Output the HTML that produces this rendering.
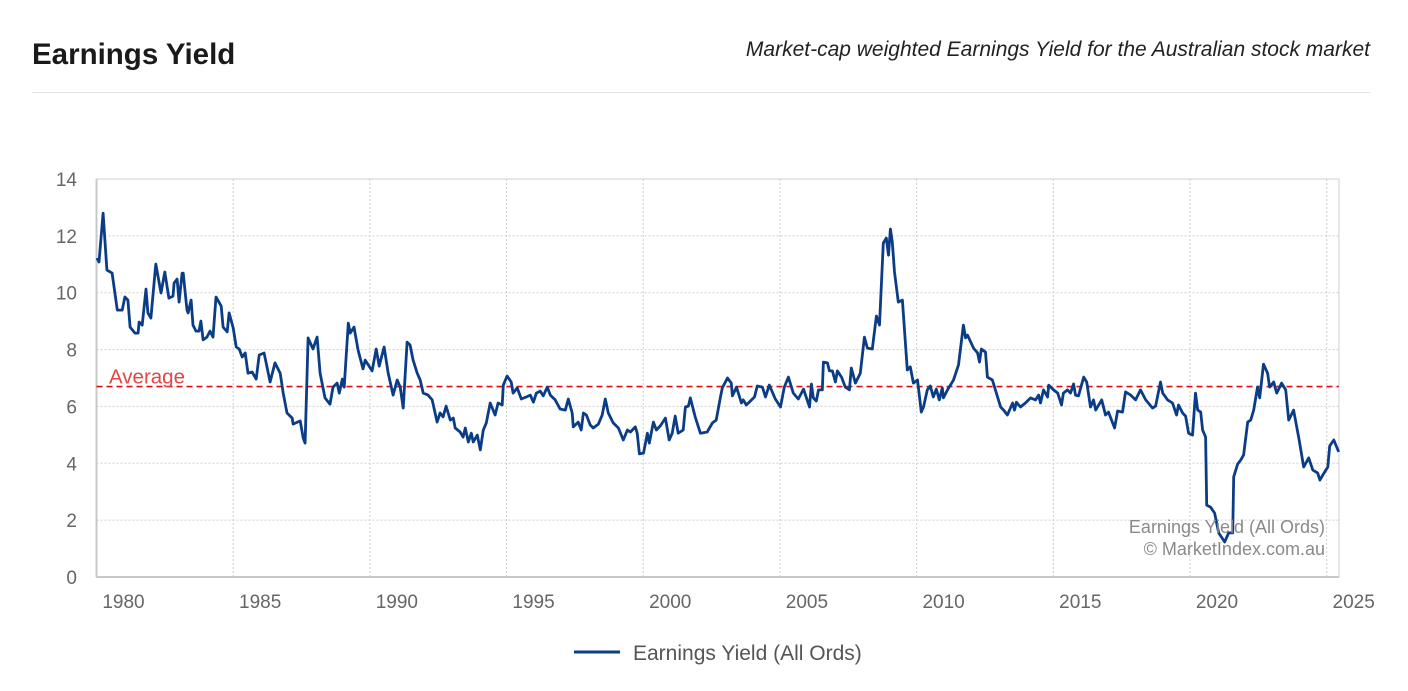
<!DOCTYPE html>
<html><head><meta charset="utf-8"><style>
body{margin:0;width:1408px;height:691px;background:#fff;font-family:"Liberation Sans",sans-serif;overflow:hidden;position:relative}
.t{position:absolute}
</style></head><body>
<div class="t" style="left:32px;top:38px;font-size:29.5px;font-weight:bold;color:#1a1a1a">Earnings Yield</div>
<div class="t" style="right:38px;top:38px;font-size:21px;font-style:italic;color:#222">Market-cap weighted Earnings Yield for the Australian stock market</div>
<div class="t" style="left:32px;top:92px;width:1338px;height:1px;background:#e2e6ea"></div>
<svg id="chart" width="1408" height="691" style="position:absolute;left:0;top:0"></svg>
<script>
const years=[1980.02,1980.09,1980.24,1980.38,1980.57,1980.76,1980.94,1981.04,1981.15,1981.23,1981.41,1981.52,1981.56,1981.67,1981.81,1981.88,1981.99,1982.17,1982.36,1982.50,1982.65,1982.80,1982.84,1982.95,1983.02,1983.13,1983.17,1983.31,1983.35,1983.46,1983.53,1983.64,1983.75,1983.82,1983.90,1984.04,1984.15,1984.26,1984.37,1984.56,1984.63,1984.78,1984.85,1985.00,1985.11,1985.22,1985.33,1985.44,1985.54,1985.69,1985.84,1985.95,1986.13,1986.35,1986.53,1986.72,1986.83,1986.97,1987.16,1987.19,1987.45,1987.56,1987.63,1987.74,1987.92,1988.07,1988.18,1988.36,1988.54,1988.65,1988.80,1988.88,1988.99,1989.06,1989.21,1989.28,1989.42,1989.57,1989.75,1989.83,1990.08,1990.23,1990.34,1990.52,1990.67,1990.85,1991.00,1991.11,1991.22,1991.36,1991.47,1991.58,1991.73,1991.84,1991.95,1992.13,1992.28,1992.46,1992.57,1992.68,1992.79,1992.94,1993.05,1993.12,1993.30,1993.41,1993.49,1993.60,1993.71,1993.78,1993.93,1994.04,1994.15,1994.26,1994.40,1994.58,1994.69,1994.84,1994.88,1995.02,1995.17,1995.24,1995.39,1995.54,1995.72,1995.87,1995.98,1996.09,1996.23,1996.34,1996.49,1996.60,1996.78,1996.96,1997.15,1997.26,1997.40,1997.44,1997.62,1997.73,1997.81,1997.92,1998.06,1998.17,1998.36,1998.50,1998.61,1998.72,1998.90,1999.09,1999.27,1999.42,1999.53,1999.71,1999.78,1999.86,2000.01,2000.15,2000.22,2000.37,2000.48,2000.62,2000.81,2000.95,2001.06,2001.17,2001.28,2001.46,2001.54,2001.65,2001.72,2001.90,2002.09,2002.34,2002.53,2002.67,2002.82,2002.89,2003.08,2003.22,2003.26,2003.41,2003.59,2003.66,2003.77,2003.92,2004.07,2004.17,2004.36,2004.47,2004.61,2004.83,2005.02,2005.16,2005.31,2005.49,2005.67,2005.86,2006.08,2006.15,2006.22,2006.33,2006.41,2006.55,2006.59,2006.74,2006.81,2006.92,2007.03,2007.10,2007.25,2007.39,2007.54,2007.61,2007.76,2007.94,2008.09,2008.20,2008.38,2008.53,2008.64,2008.78,2008.89,2008.97,2009.04,2009.11,2009.19,2009.33,2009.48,2009.66,2009.77,2009.88,2010.03,2010.17,2010.25,2010.39,2010.50,2010.61,2010.72,2010.83,2010.94,2010.98,2011.13,2011.35,2011.53,2011.71,2011.79,2011.86,2012.08,2012.23,2012.30,2012.37,2012.52,2012.59,2012.77,2012.88,2013.07,2013.18,2013.32,2013.51,2013.58,2013.65,2013.80,2013.98,2014.17,2014.35,2014.46,2014.53,2014.64,2014.79,2014.83,2015.01,2015.16,2015.30,2015.37,2015.52,2015.63,2015.74,2015.81,2015.92,2016.11,2016.22,2016.36,2016.47,2016.55,2016.77,2016.91,2017.02,2017.17,2017.24,2017.35,2017.53,2017.64,2017.83,2018.01,2018.19,2018.38,2018.63,2018.74,2018.92,2019.00,2019.18,2019.36,2019.51,2019.58,2019.73,2019.84,2019.95,2020.09,2020.20,2020.28,2020.39,2020.46,2020.57,2020.61,2020.75,2020.90,2021.05,2021.27,2021.41,2021.56,2021.60,2021.74,2021.85,2021.96,2022.11,2022.22,2022.33,2022.47,2022.55,2022.69,2022.84,2022.91,2023.06,2023.17,2023.35,2023.50,2023.61,2023.79,2023.98,2024.16,2024.34,2024.49,2024.67,2024.75,2024.86,2025.04,2025.11,2025.26,2025.44];
const yieldValues=[11.22,11.08,12.80,10.80,10.69,9.39,9.39,9.85,9.74,8.79,8.58,8.58,8.97,8.86,10.13,9.29,9.11,11.01,9.99,10.73,9.81,9.88,10.34,10.48,9.67,10.69,10.69,9.39,9.29,9.74,8.86,8.65,8.65,9.00,8.34,8.44,8.65,8.44,9.85,9.53,8.79,8.62,9.29,8.76,8.09,8.02,7.74,7.88,7.17,7.21,6.96,7.81,7.88,6.86,7.53,7.17,6.47,5.77,5.59,5.38,5.49,4.89,4.71,8.41,8.02,8.44,7.17,6.30,6.08,6.68,6.82,6.47,6.96,6.68,8.93,8.58,8.79,7.98,7.32,7.63,7.25,8.02,7.42,8.09,7.17,6.40,6.93,6.68,5.94,8.26,8.16,7.63,7.17,6.93,6.47,6.40,6.23,5.45,5.77,5.63,6.01,5.52,5.59,5.24,5.10,4.92,5.24,4.75,5.06,4.75,4.99,4.47,5.17,5.42,6.12,5.70,6.12,6.05,6.75,7.07,6.86,6.47,6.65,6.26,6.33,6.40,6.15,6.47,6.54,6.37,6.68,6.40,6.23,5.91,5.87,6.26,5.77,5.28,5.45,5.17,5.77,5.70,5.35,5.24,5.38,5.70,6.26,5.77,5.42,5.24,4.82,5.17,5.10,5.28,5.06,4.33,4.36,5.06,4.71,5.45,5.17,5.31,5.59,4.82,5.06,5.66,5.06,5.17,5.98,6.01,6.30,5.63,5.06,5.10,5.42,5.52,6.30,6.65,7.00,6.82,6.37,6.68,6.12,6.23,6.05,6.19,6.33,6.72,6.68,6.33,6.75,6.26,5.98,6.68,7.03,6.47,6.26,6.61,5.98,6.79,6.30,6.19,6.58,6.58,7.56,7.53,7.25,7.25,6.86,7.25,7.03,6.68,6.58,7.35,6.82,7.17,8.44,8.05,8.02,9.18,8.86,11.75,11.92,11.32,12.24,11.78,10.73,9.67,9.74,7.28,7.39,6.82,6.93,5.80,5.98,6.58,6.72,6.33,6.61,6.23,6.65,6.30,6.58,6.93,7.46,8.86,8.41,8.51,8.05,7.88,7.56,8.02,7.91,7.03,6.93,6.58,5.98,5.87,5.70,6.12,5.87,6.15,5.98,6.12,6.30,6.23,6.40,6.12,6.58,6.33,6.75,6.58,6.47,6.05,6.47,6.58,6.47,6.79,6.40,6.37,7.03,6.86,5.98,6.23,5.87,6.23,5.70,5.80,5.42,5.24,5.84,5.80,6.51,6.40,6.23,6.58,6.23,5.94,6.01,6.86,6.47,6.23,6.12,5.70,6.05,5.77,5.66,5.06,4.99,6.47,5.87,5.80,5.17,4.92,2.53,2.46,2.25,1.55,1.23,1.55,1.55,3.52,3.97,4.11,4.29,5.45,5.52,5.87,6.68,6.30,7.49,7.17,6.68,6.86,6.47,6.82,6.58,5.52,5.87,4.89,3.87,4.19,3.76,3.66,3.41,3.59,3.87,4.61,4.82,4.40];
const yTicks=[0,2,4,6,8,10,12,14];
const xTicks=[1980,1985,1990,1995,2000,2005,2010,2015,2020,2025];
const averageValue=6.7;
const seriesName="Earnings Yield (All Ords)";

const L=96.5,R=1339,T=179,B=577,X0=1980,X1=2025.45,Y0=0,Y1=14;
const xs=v=>L+(v-X0)/(X1-X0)*(R-L);
const ys=v=>B-(v-Y0)/(Y1-Y0)*(B-T);
const NS="http://www.w3.org/2000/svg";
const svg=document.getElementById('chart');
function mk(tag,attrs,parent){const e=document.createElementNS(NS,tag);for(const k in attrs)e.setAttribute(k,attrs[k]);(parent||svg).appendChild(e);return e;}

yTicks.forEach(t=>{
  const g=mk('line',{x1:L,x2:R,y1:ys(t),y2:ys(t),stroke:'#cfcfcf','stroke-dasharray':'2,2','stroke-width':1});
  
  
  const tx=mk('text',{x:77,y:ys(t)+7,'text-anchor':'end','font-size':19,fill:'#666','font-family':'Liberation Sans, sans-serif'});
  tx.textContent=t;
  
  
});
xTicks.forEach(t=>{
  const g=mk('line',{x1:xs(t),x2:xs(t),y1:T,y2:B,stroke:'#cfcfcf','stroke-dasharray':'2,2','stroke-width':1});
  
  
  const tx=mk('text',{x:xs(t)+27,y:608,'text-anchor':'middle','font-size':19,fill:'#666','font-family':'Liberation Sans, sans-serif'});
  tx.textContent=t;
  
  
});
const frame=mk('rect',{x:L,y:T,width:R-L,height:B-T,fill:'none',stroke:'#d0d0d0','stroke-width':1});


const ax=mk('line',{x1:L,x2:L,y1:T,y2:B,stroke:'#c8c8c8','stroke-width':2});


const bx=mk('line',{x1:L,x2:R,y1:B,y2:B,stroke:'#c8c8c8','stroke-width':2});



const avg=mk('line',{x1:L,x2:R,y1:ys(averageValue),y2:ys(averageValue),stroke:'#dd1111','stroke-dasharray':'6,4','stroke-width':1.6});


const avgT=mk('text',{x:109,y:ys(averageValue)-3,'font-size':20.5,fill:'#e04848','font-family':'Liberation Sans, sans-serif'});
avgT.textContent='Average';



let d='';years.forEach((y,i)=>{d+=(i?'L':'M')+xs(y).toFixed(1)+','+ys(yieldValues[i]).toFixed(1);});
const line=mk('path',{d:d,fill:'none',stroke:'#0b3d87','stroke-width':2.8,'stroke-linejoin':'round'});



const c1=mk('text',{x:1325,y:533,'text-anchor':'end','font-size':18,fill:'#8a8a8a','font-family':'Liberation Sans, sans-serif'});
c1.textContent=seriesName;


const c2=mk('text',{x:1325,y:555,'text-anchor':'end','font-size':18,fill:'#8a8a8a','font-family':'Liberation Sans, sans-serif'});
c2.textContent='© MarketIndex.com.au';



const lg=mk('line',{x1:574,x2:620,y1:652,y2:652,stroke:'#0b3d87','stroke-width':3});


const lt=mk('text',{x:633,y:660,'font-size':21,fill:'#555','font-family':'Liberation Sans, sans-serif'});
lt.textContent=seriesName;


</script>
</body></html>
